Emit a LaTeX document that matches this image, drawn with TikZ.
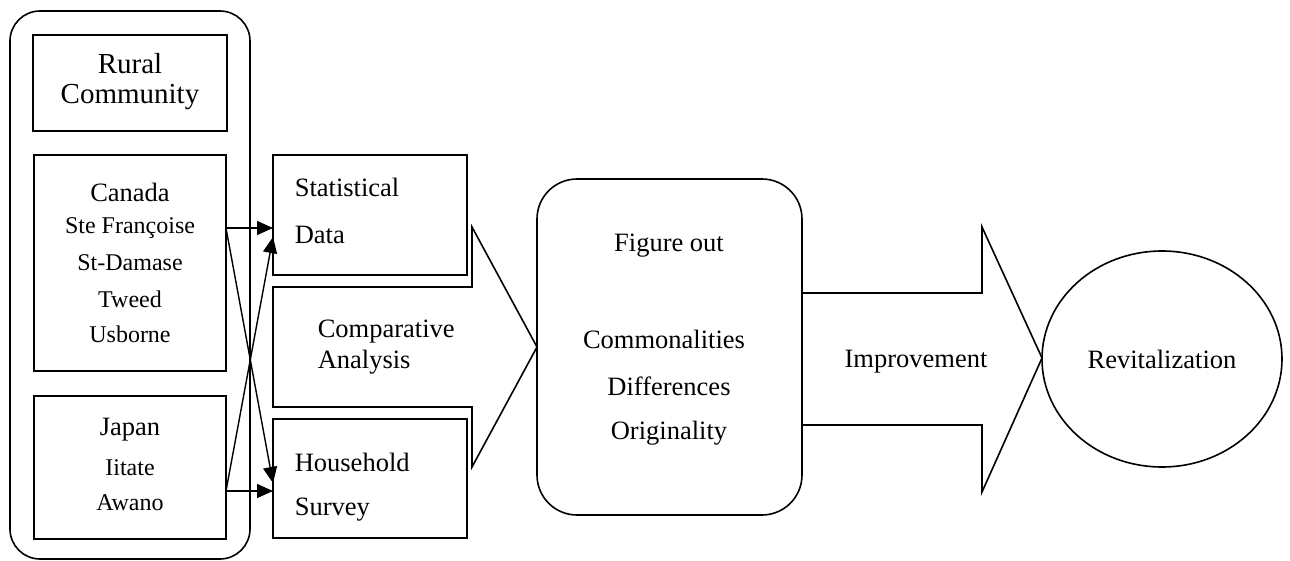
\documentclass[tikz,border=0pt]{standalone}
\usepackage{fontspec}
\setmainfont{Liberation Serif}
\usetikzlibrary{arrows.meta,shapes.geometric}
\begin{document}
\begin{tikzpicture}[x=1pt,y=-1pt, line width=1.6pt,
  box/.style={draw, rectangle, inner sep=0pt, outer sep=0pt},
  rbox/.style={draw, rectangle, rounded corners=#1, inner sep=0pt, outer sep=0pt},
  big/.style={inner sep=0pt, font=\fontsize{29}{32}\selectfont},
  lbl/.style={inner sep=0pt, font=\fontsize{26.5}{30}\selectfont},
  sm/.style={inner sep=0pt, font=\fontsize{24}{28}\selectfont},
  arr/.style={-{Triangle[length=16pt,width=14pt]}, line width=1.4pt},
  flow/.style={line width=1.6pt, line join=miter}]
\useasboundingbox (0,0) rectangle (1290,561);

% left column
\node[rbox=30pt, minimum width=240pt, minimum height=548pt] (outer) at (130,285) {};
\node[box, minimum width=194pt, minimum height=96pt] (rural) at (130,83) {};
\node[big] (t1) at (130,64) {Rural};
\node[big] (t2) at (130,97) {Community};

\node[box, minimum width=192pt, minimum height=216pt] (canada) at (130,263) {};
\node[lbl] (ca) at (130,192) {Canada};
\node[sm] (sf) at (130,228) {Ste Françoise};
\node[sm] (sd) at (130,263) {St-Damase};
\node[sm] (tw) at (130,299) {Tweed};
\node[sm] (us) at (130,334) {Usborne};

\node[box, minimum width=192pt, minimum height=143pt] (japan) at (130,467.5) {};
\node[lbl] (jp) at (130,430) {Japan};
\node[sm] (ii) at (130,468) {Iitate};
\node[sm] (aw) at (130,503) {Awano};

% data boxes
\node[box, minimum width=194pt, minimum height=120pt] (stat) at (370,215) {};
\node[lbl, anchor=west] (st1) at (294,187) {Statistical};
\node[lbl, anchor=west] (st2) at (294,235) {Data};

\node[box, minimum width=194pt, minimum height=119pt] (house) at (370,478.5) {};
\node[lbl, anchor=west] (hh1) at (294,462) {Household};
\node[lbl, anchor=west] (hh2) at (294,510) {Survey};

% connectors
\coordinate (caO) at (226,228);
\coordinate (jpO) at (226,491);
\coordinate (stA) at (273,228);
\coordinate (stB) at (273,237);
\coordinate (hhA) at (273,491);
\coordinate (hhB) at (273,483);
\draw[arr] (caO) -- (stA);
\draw[arr] (caO) -- (hhB);
\draw[arr] (jpO) -- (hhA);
\draw[arr] (jpO) -- (stB);

% comparative analysis arrow
\draw[flow] (273,287) -- (472,287) -- (472,227) -- (537,347) -- (472,467) -- (472,407) -- (273,407) -- cycle;
\node[lbl, anchor=west] (cp1) at (317,332) {Comparative};
\node[lbl, anchor=west] (cp2) at (317,362) {Analysis};

% figure out box
\node[rbox=40pt, minimum width=265pt, minimum height=336pt] (fig) at (669.5,347) {};
\node[lbl] (f1) at (669,246) {Figure out};
\node[lbl] (f2) at (664,339) {Commonalities};
\node[lbl] (f3) at (669,386) {Differences};
\node[lbl] (f4) at (669,433) {Originality};

% improvement arrow
\draw[flow] (802,293) -- (982,293) -- (982,227) -- (1042,358) -- (982,492) -- (982,425) -- (802,425);
\node[lbl] (imp) at (916,362) {Improvement};

% revitalization
\node[draw, ellipse, inner sep=0pt, minimum width=240pt, minimum height=216pt, font=\fontsize{26.5}{30}\selectfont] (rev) at (1162,359) {Revitalization};
\end{tikzpicture}
\end{document}
